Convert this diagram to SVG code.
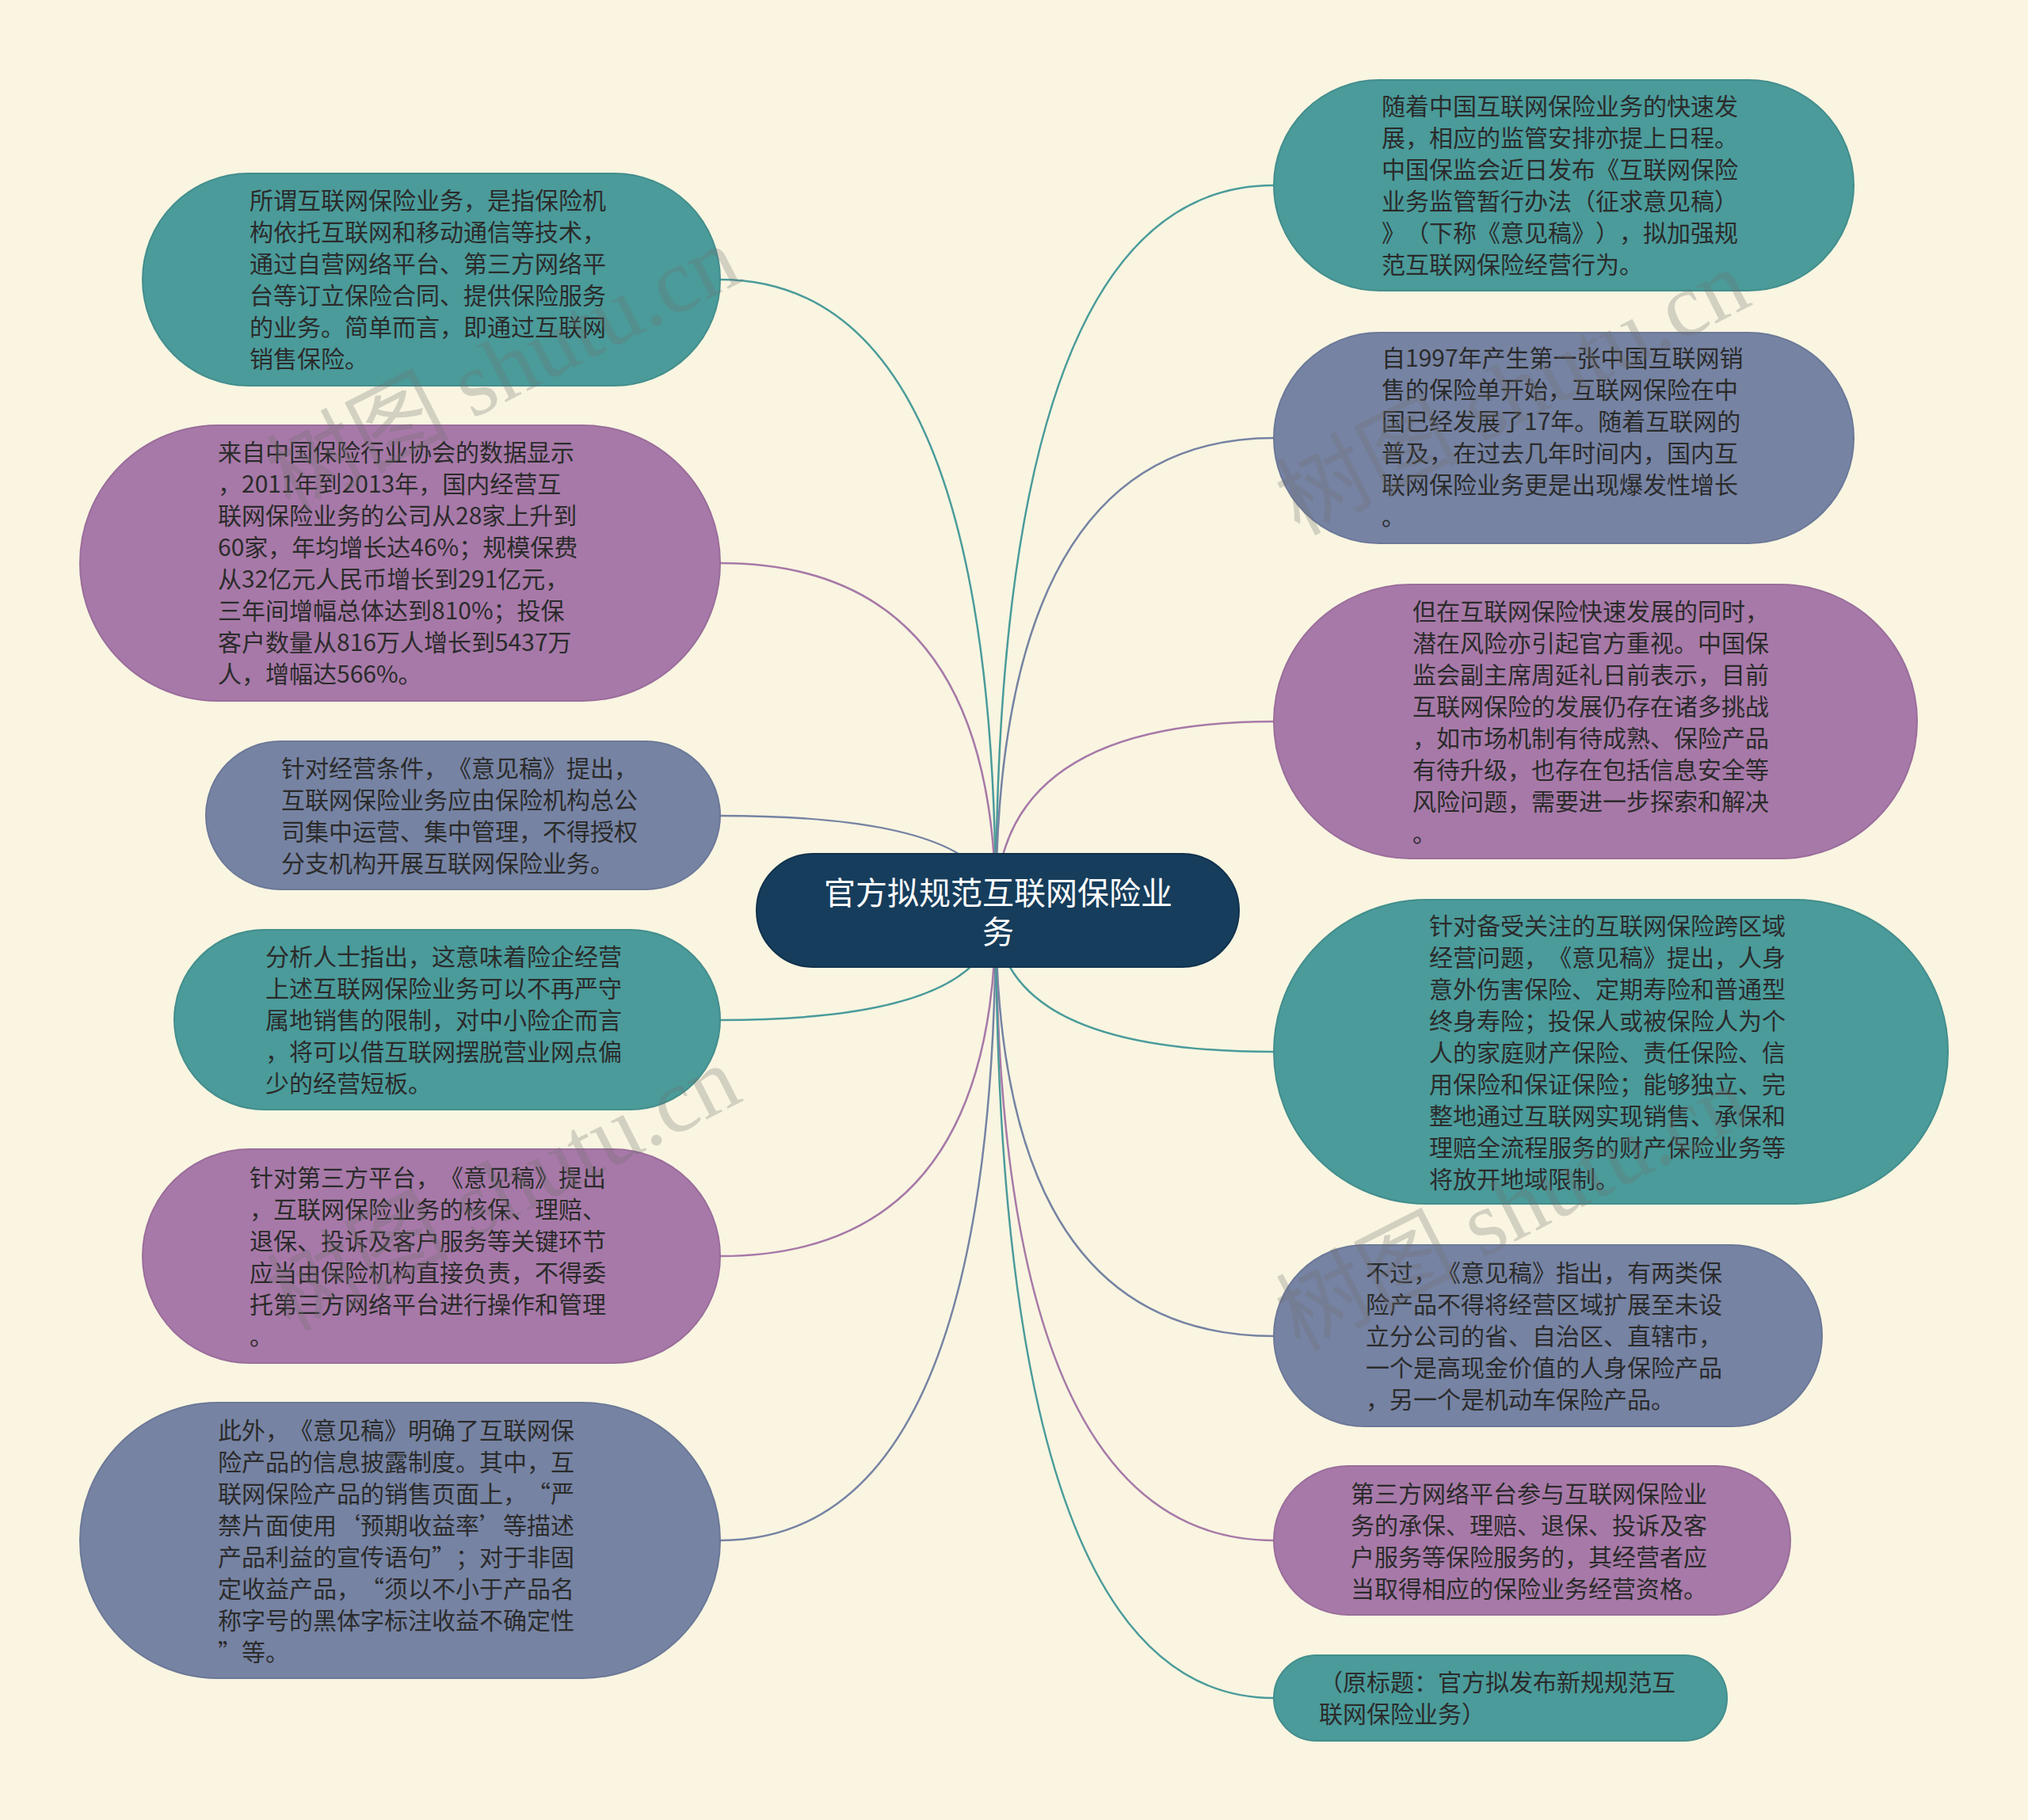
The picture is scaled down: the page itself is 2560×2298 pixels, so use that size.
<svg xmlns="http://www.w3.org/2000/svg" width="2560" height="2298" viewBox="0 0 2560 2298">
<style>
.bg{fill:#F9F5E1}
.teal{fill:#4A9B9A;stroke:#438E8D;stroke-width:2}
.purple{fill:#A779A8;stroke:#9A6D9B;stroke-width:2}
.slate{fill:#7683A3;stroke:#6C7898;stroke-width:2}
.root{fill:#163D5C;stroke:#11324D;stroke-width:2}
.t{font-family:"Noto Sans CJK SC","Noto Sans",sans-serif;font-size:30px;fill:#2B2B2B;text-spacing-trim:space-all;font-feature-settings:"chws" 0,"halt" 0}
.rt{font-family:"Noto Sans CJK SC","Noto Sans",sans-serif;font-size:40px;fill:#FFFFFF;text-anchor:middle}
.c{fill:none;stroke-width:2.5}
.ct{stroke:#4A9B9A}.cp{stroke:#A779A8}.cs{stroke:#7683A3}
.wm{font-family:"Liberation Serif","Noto Sans CJK SC",serif;font-size:115px;fill:#6E6E6E;fill-opacity:0.28}
</style>
<rect class="bg" x="0" y="0" width="2560" height="2298"/>
<g id="connectors">
<path class="c ct" d="M1257,1150 Q1257,353 909,353"/>
<path class="c cp" d="M1257,1150 Q1257,711 909,711"/>
<path class="c cs" d="M1257,1150 Q1257,1030 909,1030"/>
<path class="c ct" d="M1257,1150 Q1257,1288 909,1288"/>
<path class="c cp" d="M1257,1150 Q1257,1586 909,1586"/>
<path class="c cs" d="M1257,1150 Q1257,1945 909,1945"/>
<path class="c ct" d="M1257,1150 Q1257,234 1608,234"/>
<path class="c cs" d="M1257,1150 Q1257,553 1608,553"/>
<path class="c cp" d="M1257,1150 Q1257,911 1608,911"/>
<path class="c ct" d="M1257,1150 Q1257,1328 1608,1328"/>
<path class="c cs" d="M1257,1150 Q1257,1687 1608,1687"/>
<path class="c cp" d="M1257,1150 Q1257,1945 1608,1945"/>
<path class="c ct" d="M1257,1150 Q1257,2144 1608,2144"/>
</g>
<g id="root">
<rect class="root" x="955" y="1078" width="609" height="143" rx="71.5"/>
<text class="rt" x="1260" y="1142">官方拟规范互联网保险业</text>
<text class="rt" x="1260" y="1191">务</text>
</g>
<g id="L1">
<rect class="teal" x="180" y="219" width="729" height="268" rx="134"/>
<text class="t" x="315" y="264">所谓互联网保险业务，是指保险机</text>
<text class="t" x="315" y="304">构依托互联网和移动通信等技术，</text>
<text class="t" x="315" y="344">通过自营网络平台、第三方网络平</text>
<text class="t" x="315" y="384">台等订立保险合同、提供保险服务</text>
<text class="t" x="315" y="424">的业务。简单而言，即通过互联网</text>
<text class="t" x="315" y="464">销售保险。</text>
</g>
<g id="L2">
<rect class="purple" x="101" y="537" width="808" height="348" rx="174"/>
<text class="t" x="275" y="582">来自中国保险行业协会的数据显示</text>
<text class="t" x="275" y="622">，2011年到2013年，国内经营互</text>
<text class="t" x="275" y="662">联网保险业务的公司从28家上升到</text>
<text class="t" x="275" y="702">60家，年均增长达46%；规模保费</text>
<text class="t" x="275" y="742">从32亿元人民币增长到291亿元，</text>
<text class="t" x="275" y="782">三年间增幅总体达到810%；投保</text>
<text class="t" x="275" y="822">客户数量从816万人增长到5437万</text>
<text class="t" x="275" y="862">人，增幅达566%。</text>
</g>
<g id="L3">
<rect class="slate" x="260" y="936" width="649" height="187" rx="93.5"/>
<text class="t" x="355" y="981">针对经营条件，《意见稿》提出，</text>
<text class="t" x="355" y="1021">互联网保险业务应由保险机构总公</text>
<text class="t" x="355" y="1061">司集中运营、集中管理，不得授权</text>
<text class="t" x="355" y="1101">分支机构开展互联网保险业务。</text>
</g>
<g id="L4">
<rect class="teal" x="220" y="1174" width="689" height="227" rx="113.5"/>
<text class="t" x="335" y="1219">分析人士指出，这意味着险企经营</text>
<text class="t" x="335" y="1259">上述互联网保险业务可以不再严守</text>
<text class="t" x="335" y="1299">属地销售的限制，对中小险企而言</text>
<text class="t" x="335" y="1339">，将可以借互联网摆脱营业网点偏</text>
<text class="t" x="335" y="1379">少的经营短板。</text>
</g>
<g id="L5">
<rect class="purple" x="180" y="1451" width="729" height="270" rx="135"/>
<text class="t" x="315" y="1498">针对第三方平台，《意见稿》提出</text>
<text class="t" x="315" y="1538">，互联网保险业务的核保、理赔、</text>
<text class="t" x="315" y="1578">退保、投诉及客户服务等关键环节</text>
<text class="t" x="315" y="1618">应当由保险机构直接负责，不得委</text>
<text class="t" x="315" y="1658">托第三方网络平台进行操作和管理</text>
<text class="t" x="315" y="1698">。</text>
</g>
<g id="L6">
<rect class="slate" x="101" y="1771" width="808" height="348" rx="174"/>
<text class="t" x="275" y="1817">此外，《意见稿》明确了互联网保</text>
<text class="t" x="275" y="1857">险产品的信息披露制度。其中，互</text>
<text class="t" x="275" y="1897">联网保险产品的销售页面上，“严</text>
<text class="t" x="275" y="1937">禁片面使用‘预期收益率’等描述</text>
<text class="t" x="275" y="1977">产品利益的宣传语句”；对于非固</text>
<text class="t" x="275" y="2017">定收益产品，“须以不小于产品名</text>
<text class="t" x="275" y="2057">称字号的黑体字标注收益不确定性</text>
<text class="t" x="275" y="2097">”等。</text>
</g>
<g id="R1">
<rect class="teal" x="1608" y="101" width="732" height="266" rx="133"/>
<text class="t" x="1744" y="145">随着中国互联网保险业务的快速发</text>
<text class="t" x="1744" y="185">展，相应的监管安排亦提上日程。</text>
<text class="t" x="1744" y="225">中国保监会近日发布《互联网保险</text>
<text class="t" x="1744" y="265">业务监管暂行办法（征求意见稿）</text>
<text class="t" x="1744" y="305">》（下称《意见稿》），拟加强规</text>
<text class="t" x="1744" y="345">范互联网保险经营行为。</text>
</g>
<g id="R2">
<rect class="slate" x="1608" y="420" width="732" height="266" rx="133"/>
<text class="t" x="1744" y="463">自1997年产生第一张中国互联网销</text>
<text class="t" x="1744" y="503">售的保险单开始，互联网保险在中</text>
<text class="t" x="1744" y="543">国已经发展了17年。随着互联网的</text>
<text class="t" x="1744" y="583">普及，在过去几年时间内，国内互</text>
<text class="t" x="1744" y="623">联网保险业务更是出现爆发性增长</text>
<text class="t" x="1744" y="663">。</text>
</g>
<g id="R3">
<rect class="purple" x="1608" y="738" width="812" height="346" rx="173"/>
<text class="t" x="1783" y="783">但在互联网保险快速发展的同时，</text>
<text class="t" x="1783" y="823">潜在风险亦引起官方重视。中国保</text>
<text class="t" x="1783" y="863">监会副主席周延礼日前表示，目前</text>
<text class="t" x="1783" y="903">互联网保险的发展仍存在诸多挑战</text>
<text class="t" x="1783" y="943">，如市场机制有待成熟、保险产品</text>
<text class="t" x="1783" y="983">有待升级，也存在包括信息安全等</text>
<text class="t" x="1783" y="1023">风险问题，需要进一步探索和解决</text>
<text class="t" x="1783" y="1063">。</text>
</g>
<g id="R4">
<rect class="teal" x="1608" y="1136" width="851" height="384" rx="192"/>
<text class="t" x="1804" y="1180">针对备受关注的互联网保险跨区域</text>
<text class="t" x="1804" y="1220">经营问题，《意见稿》提出，人身</text>
<text class="t" x="1804" y="1260">意外伤害保险、定期寿险和普通型</text>
<text class="t" x="1804" y="1300">终身寿险；投保人或被保险人为个</text>
<text class="t" x="1804" y="1340">人的家庭财产保险、责任保险、信</text>
<text class="t" x="1804" y="1380">用保险和保证保险；能够独立、完</text>
<text class="t" x="1804" y="1420">整地通过互联网实现销售、承保和</text>
<text class="t" x="1804" y="1460">理赔全流程服务的财产保险业务等</text>
<text class="t" x="1804" y="1500">将放开地域限制。</text>
</g>
<g id="R5">
<rect class="slate" x="1608" y="1572" width="692" height="229" rx="114.5"/>
<text class="t" x="1724" y="1618">不过，《意见稿》指出，有两类保</text>
<text class="t" x="1724" y="1658">险产品不得将经营区域扩展至未设</text>
<text class="t" x="1724" y="1698">立分公司的省、自治区、直辖市，</text>
<text class="t" x="1724" y="1738">一个是高现金价值的人身保险产品</text>
<text class="t" x="1724" y="1778">，另一个是机动车保险产品。</text>
</g>
<g id="R6">
<rect class="purple" x="1608" y="1851" width="652" height="188" rx="94"/>
<text class="t" x="1705" y="1897">第三方网络平台参与互联网保险业</text>
<text class="t" x="1705" y="1937">务的承保、理赔、退保、投诉及客</text>
<text class="t" x="1705" y="1977">户服务等保险服务的，其经营者应</text>
<text class="t" x="1705" y="2017">当取得相应的保险业务经营资格。</text>
</g>
<g id="R7">
<rect class="teal" x="1608" y="2090" width="572" height="108" rx="54"/>
<text class="t" x="1665" y="2135">（原标题：官方拟发布新规规范互</text>
<text class="t" x="1665" y="2175">联网保险业务）</text>
</g>
<g id="watermarks">
<text class="wm" text-anchor="middle" transform="translate(653,500) rotate(-27)">树图 shutu.cn</text>
<text class="wm" text-anchor="middle" transform="translate(1927,530) rotate(-27)">树图 shutu.cn</text>
<text class="wm" text-anchor="middle" transform="translate(653,1535) rotate(-27)">树图 shutu.cn</text>
<text class="wm" text-anchor="middle" transform="translate(1927,1560) rotate(-27)">树图 shutu.cn</text>
</g>
</svg>
